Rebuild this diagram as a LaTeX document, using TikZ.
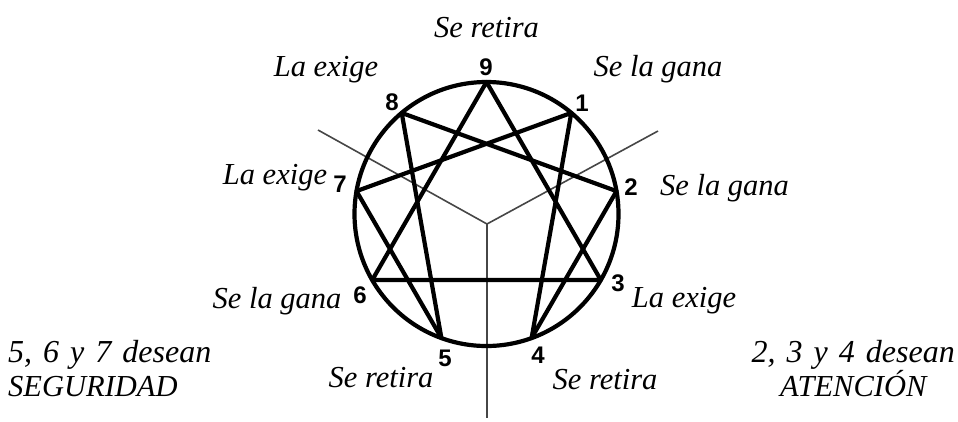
\documentclass[tikz,border=0pt]{standalone}
\usepackage{fontspec}
\setmainfont{Liberation Serif}
\newfontfamily\digitfont{Liberation Sans}
\usetikzlibrary{calc}
\newcommand{\wideline}[1]{{\fontsize{32}{34}\selectfont\spaceskip=11pt #1}}
\begin{document}
\begin{tikzpicture}[x=1pt,y=-1pt,
  lbl/.style={font=\fontsize{30.5}{32}\selectfont\itshape, inner sep=0pt},
  corner/.style={font=\fontsize{30.5}{34}\selectfont\itshape, inner sep=0pt},
  num/.style={font=\digitfont\fontsize{24}{26}\selectfont\bfseries, inner sep=0pt},
  ring/.style={line width=4.2pt},
  chord/.style={line width=4.2pt, line join=round, line cap=round},
  axis/.style={line width=1.6pt, gray!55!black}]
\useasboundingbox (0,0) rectangle (958,421);
\coordinate (c) at (486.5,214);
\coordinate (p9) at (486.5,82);
\coordinate (p1) at (571.3,112.9);
\coordinate (p2) at (616.5,191.1);
\coordinate (p3) at (600.8,280);
\coordinate (p4) at (531.6,338.0);
\coordinate (p5) at (441.4,338.0);
\coordinate (p6) at (372.2,280);
\coordinate (p7) at (356.5,191.1);
\coordinate (p8) at (401.7,112.9);
% gray axes
\coordinate (yc) at (487,224);
\coordinate (yl) at (318,130);
\coordinate (yr) at (658,131);
\coordinate (yb) at (487,418);
\draw[axis] (yl) -- (yc) -- (yr);
\draw[axis] (yc) -- (yb);
% circle
\draw[ring] (c) circle[radius=132];
% triangle
\draw[chord] (p9) -- (p3) -- (p6) -- cycle;
% hexad
\draw[chord] (p1) -- (p4) -- (p2) -- (p8) -- (p5) -- (p7) -- cycle;
% numbers
\node[num] (n9) at (486,67) {9};
\node[num] (n1) at (582,103) {1};
\node[num] (n2) at (631,187) {2};
\node[num] (n3) at (618,283) {3};
\node[num] (n4) at (538,355) {4};
\node[num] (n5) at (445,358) {5};
\node[num] (n6) at (360,295) {6};
\node[num] (n7) at (340,184) {7};
\node[num] (n8) at (392,102) {8};
% labels
\node[lbl] (l9) at (486.5,28) {Se retira};
\node[lbl] (l8) at (326,70) {La exige};
\node[lbl] (l1) at (658,69) {Se la gana};
\node[lbl] (l7) at (275,178) {La exige};
\node[lbl] (l2) at (724.5,188) {Se la gana};
\node[lbl] (l6) at (277,301) {Se la gana};
\node[lbl] (l3) at (684,301) {La exige};
\node[lbl] (l5) at (381,378) {Se retira};
\node[lbl] (l4) at (605,380) {Se retira};
\node[corner, anchor=base west, align=left] (ls) at (8,396) {\wideline{5, 6 y 7 desean}\\SEGURIDAD};
\node[corner, anchor=base east, align=center] (la) at (955,396) {\wideline{2, 3 y 4 desean}\\ATENCIÓN};
\end{tikzpicture}
\end{document}
